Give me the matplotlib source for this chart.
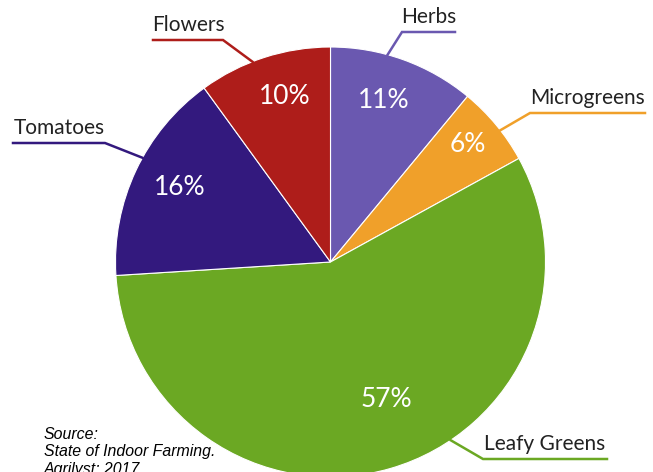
import matplotlib.pyplot as plt
import numpy as np

# data
crops = ['Herbs', 'Microgreens', 'Leafy Greens', 'Tomatoes', 'Flowers']
shares = [11, 6, 57, 16, 10]
colors = ['#6A58B0', '#F0A02A', '#6BA823', '#33197E', '#AE1D1A']

# layout (pixels in the 653x472 picture)
W, H = 653, 472
cx, cy, R = 330.5, 262, 215

def px(x, y):
    return (x - cx) / R, (cy - y) / R

fig = plt.figure(figsize=(W / 100, H / 100), dpi=100)
ax = fig.add_axes([0, 0, 1, 1])

wedges, _ = ax.pie(shares, colors=colors, startangle=90, counterclock=False,
                   radius=1, center=(0, 0), frame=True,
                   wedgeprops=dict(edgecolor='white', linewidth=0.8))
ax.set_xlim(-cx / R, (W - cx) / R)
ax.set_ylim(-(H - cy) / R, cy / R)
ax.axis('off')

# percent labels: distance from centre and angle shift per slice
pct_r = [0.79, 0.84, 0.69, 0.78, 0.80]
pct_shift = [1.5, 1.0, 6.0, -1.0, -2.5]
for w, s, r, d in zip(wedges, shares, pct_r, pct_shift):
    a = np.deg2rad((w.theta1 + w.theta2) / 2 + d)
    ax.text(r * np.cos(a), r * np.sin(a), f'{s}%', color='white',
            fontsize=19, family='Lato', ha='center', va='center')

# outside labels with leader lines
attach_shift = [4.4, -1.8, 17.8, -3.8, 3.3]
elbow = [(402, 32), (530, 113), (483, 459), (105, 143), (223, 40)]
line_end = [455, 645, 607, 13, 153]
for w, name, c, dshift, (ex, ey), lx in zip(wedges, crops, colors,
                                             attach_shift, elbow, line_end):
    a = np.deg2rad((w.theta1 + w.theta2) / 2 + dshift)
    p0 = (np.cos(a), np.sin(a))
    p1 = px(ex, ey)
    p2 = px(lx, ey)
    ax.plot([p0[0], p1[0], p2[0]], [p0[1], p1[1], p2[1]], color=c, lw=1.8,
            solid_joinstyle='miter', clip_on=False)
    tx = (p1[0] + p2[0]) / 2
    ax.text(tx, p1[1] + 0.025, name, fontsize=15, family='Lato', color='#222222',
            ha='center', va='bottom')

# source note
sx, sy = px(44, 427)
ax.text(sx, sy, 'Source:\nState of Indoor Farming.\nAgrilyst; 2017',
        fontsize=11.4, family='Liberation Sans', style='italic', color='black',
        ha='left', va='top', linespacing=1.2)

plt.savefig('out.png', dpi=100)
